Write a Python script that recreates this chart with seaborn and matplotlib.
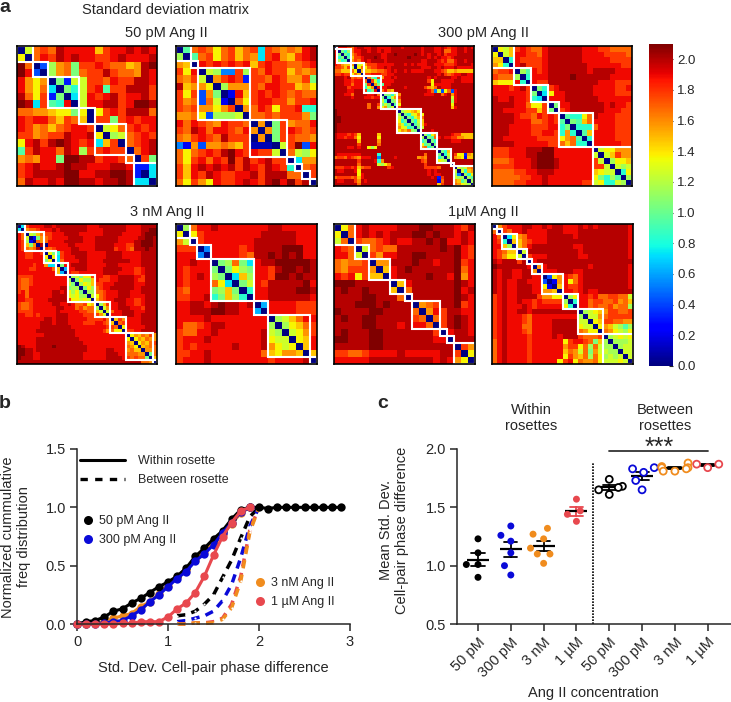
import numpy as np
import pandas as pd
import seaborn as sns
import matplotlib.pyplot as plt
from matplotlib.lines import Line2D
from matplotlib.patches import Rectangle

sns.set_style("ticks")
plt.rcParams['font.family'] = ['Liberation Sans', 'DejaVu Sans']

# matrix cells, one character per cell: base 22 digit, 0 = 0.0 and k = 2.1
m50a = [
 "0cghgjiiiiehiijiji", "d0gihjijiihhijiiij", "kg04bfgahhihggefjk", "ki40bfgaghhjhggfji",
 "ifdf0a3cchhgihhjji", "ifdg70a8chi9hhjjjh", "jgdh3a07cihijhiijh", "kj7h98i0ciijjhikkj",
 "ggffeddad0dhihjjjg", "ihiigehge0hhahihii", "ihfgeghiih0cdghihi", "hhfghhjiijd0bcghih",
 "dijhjkjihi7eh0ghij", "9hjiigjibhhihh0gij", "fgfiiakkjjhiihg0ha", "hijiijkjjiiijji337",
 "hijjjjkkiijjkkj307", "gjiijikkjjijjkj770"]
m50b = [
 "09ghgdghegh7hgfgfij", "b09ghdghegf7hifehij", "fe0ihihihiehihhgghi", "hdi0cb55hbhgihhegfg",
 "gfhc0fhih3hhgihffha", "jeffd0bfffhgiihhefd", "hdh4fa02iehihihghgg", "hfg4gc20gdhiihhfhhi",
 "hghffdfh0fgihdhhi88", "ffgd4bbbc0gghghhhfa", "igihgfihhg0f0ahfggi", "hgjigiihgif0fahihgh",
 "gfhihgjhhh0f0ahhggf", "52f4ffgfeh1110chk4i", "gdghihjkihihhc0gcbd", "gdhigihkhjhijhh07ff",
 "heijijijhjihjih80gh", "heihjihhiijhjjjgg0h", "gdhfdihhijihjkikhj0"]
m300a = [
 "0iiihgijji ijjiiiijjj ijjjjjijjj iijihiijji ji", "i0a8bgiijj ijjijiijjj jjjjjjijjj iijggiijji jj",
 "ia0a8fhijj jjjjiijjkj jjjjkjijij jijhiiijjj jj", "i8a09ehhij jjkjiijjjj jjkjjjjjij ijiihijjjj jj",
 "ib890fhgij ijjjjijjjj jjjjjjiijj jihiggijji jj", "ihfeef0cdf hhhiiiiijj jijijiiijj iiihhhijjj ji",
 "hhgehc0dgd ghhiijijjj jjjjjjiiij jijiiijiii ii", "ggeeegd0ee effgghijij jijiiiijjj iihgeefeee ee",
 "hhihhdge0h hiiihhiijj jjjjjjjjjj jijhghiijj ii", "jjjijghgh0 ga8hfiijij jjjjjjjjij ijjjjiijii ii",
 "jjjiihiiig 0hc8iiiijj jjjjjjjjhd jjiiiijjii ii", "jjjiigiiia h0fa9iijjj jjjjjjjjjd iiiiijjjjj jj",
 "jjjjhiiii8 cf0iiijjjj jijjjjjhfe gjiiijjjjj jj", "jjjjiijjjh 8ai0gifejj jjjjjjjjig 5c4dg4ijjj jj",
 "jjjiigjjjj iijg0aa8cf jjjjjjjiii jjgijfijjj jj", "jjjjjijjji ihiia08cfh jjjjjjjjjj jjjjjcijjj jj",
 "jjjjjjjjjj jjjjc80abf jjjjjjjjjj jjjjjbijjj jj", "jjjjjjjjjj gjjhaca09d jjjjjjjjjj jjjjjdjjjj jj",
 "jjjjjjjjjj gjjfdfac0h jjjjjjjjjj jjjjjeijjj jj", "kjjjjjjjjj jjjjjjjjj0 bcdefdjjjj jjjjjjjjjj jj",
 "kjjjjjjjjj jjjjjjjjjb 0a8cdfdjjj jjjjjjjjjj jj", "kkjjjjjjjj jjjjjjjjjc a0a8cegjjj jjjjjjjjjj jj",
 "kkjjjjjjjj jjjjjjjjjd 8a0a8cejjj jjjjjjjjjj jj", "kjjjjjjjjj jjjjjjjjje c8a09beijj jjjjjjjjjj jj",
 "kjjjjjjjjj jjjjjjjjjf dc890acjjj jjjjjjjjjj jj", "kjjjjjjjjj jjjjjjjjjd fegba0jjji jjjjjjjjjj jj",
 "jiiihihejj jjjejjjjjj jjjjjj0b8d fjjjjihhee ee", "jiihiigdjj jjjdjjjjjj jjjjjjb0a9 gijiihhffe ee",
 "jjjjjjjejj jjjfjjjjjj jjjjjj8a0a 8jjjjiiijj jj", "jjjjjjjhjj jjjgjjjjjj jjjjjjd9a0 ajjjjjjjjj jj",
 "jjjjiijijj dbdjjjjjjj jjjjjjfg8a 0jjjjjjjjj jj", "jjjjjjjjjj jjjjjjjjjj jjjjjjjjjj j0a8ejjjjj jj",
 "jiiiiiiijj jjj8jjjjjj jjjjjjjgjj ja08cjhdd3 fe", "ghhgihgfii ijj5jjjjij jjjjjfgfjj j8a0bjfed2 ee",
 "jjjjjjjhjj jji8fjjjjj jjjjjjhgjj jdcb0jjjjj jj", "jjjjjjjgjj jjjcbdfjjj jjjjjjjhjj jjjjj0jjjj jj",
 "hhhiihiegh hjjjjjhijj jjjjjjjhhh hgjjjj0cbc fg", "jiijjjidjj jjjjjjjjjj jjjjjjjjij ijjjjjc0c8 ef",
 "jjjjjjjdij jjjjjjjjjj jjjjjjjjij iijjjjb50b 8d", "ghhhhgheij jjjjjjjjjj jjjjjjjjji j3hjjjcbb0 b9",
 "jiijjjhfji jjjjjjjjjj jjjjjjjjjj j2gjjjfe9b 0b", "jjjjjjjgjj jjjjjjjjjj jjjjjjjjjj jehjjjgfdc b0"]
m300b = [
 "0dcehihggi jjjjjjiiih hgggg", "d0ceiihhgi jjjjjjiiii hhhhg", "ee08ihhhhi jjjjjjiiii ihhhh",
 "fd80ijhhhi jjjjjjjiii iiihh", "ghhi0b9ihi jjjjjjjijj jjiii", "hgggb08iii jjjjkjjjjj jiiii",
 "edddi80ihh jjjjjjjjji iihhh", "iiihijh0a8 hijjjjjjii iihhi", "iiiiiiha07 diijjjjjii iihhh",
 "jiijiih870 iiijjjjjji iiiii", "jjjjiigddh 0aiijjjjjj ijiih", "jjiiiihheh a0hijjjjjj iiihh",
 "jjjjihhgih ih0988dgji iihhh", "jjjjiiiggh ih90a9egii iihhh", "jjjiiiihhh ii8a0888gi iihhh",
 "jjjiiiihhi ih8f809eii iihhh", "jjiiiiiihh hhdfg908ii iihhh", "jjjjiiiiii hhgeg880ii iiihh",
 "hhhiiijjjk kiiiiiii0c ddfff", "hhhiiijjkk kiiiiiiic0 cehff", "ggghiiijkk kjiiiiiihc 0bdde",
 "hhhhiiijkk kjiiiiiihh c0cbc", "gggghhiijj jiiiiiiied cc08d", "ggggghhiij iiiiiiiida 8b90b",
 "gggghhiiij iiiiiihhcd 88cb0"]
m3a = [
 "07hiiiijji jjjjjjjjii ijjjjjjjii iijjjj", "70fgghiiij ijjjjjjjii iijjjjjjii iijjkk",
 "ig0cbeghhi iijjjjiiii iijjjjjiii iijkkk", "igc02afghi iiijjjjiii jjjjjjiiii ijjkkj",
 "ihb20gfgii iijjjjjiii jjjjjjiiii jjkkkj", "iheaf0j0ii iiijjiiiii jjjjjiiihh jjkkkj",
 "ihgfgj0hgh iiiijjiiii jjjjjhiihg jjjkjj", "iihhiih0da 8hiijjjjii iiijjjjiii iijjjj",
 "iihhiiid0d 7hiiijjjii iiijjjjiii iijjjj", "iiiiiiiad0 7giiiijjii iijjjjjjji iijjjj",
 "iiiihiif77 0aiijjjjii iiijjjiiii iijjjj", "iiihhiiiig e06iijjjii iijjjjjiii hhijjj",
 "iiiiiiiiii e60ihhiiii iijjjjiiii hhijjj", "hhhhiiiiii iii0bcaddh iihhiijjjj iihjjj",
 "hgghiiiiii iiib0adbbe ihhhiijjjj ihhjjj", "hgghiiiiii iiica0bdce hhiiijjjjj iiijjj",
 "hggiiiiiii ijjabb0adb ghiijjjjjj iijjjj", "higiiiiiij jijdbda0bb gghiiijjji iijjjj",
 "iigiiiiiij jjjdcdbb0c dghiiijjji iiijjj", "iihhiiiijj jjjhddcdc0 eghiijjjii hhijjj",
 "hgghiiiiij jiijigghde 0behiijjii hhijjj", "hgghiiiiii jjiiighfgg b0cfiijjji iihjjj",
 "hhhhiiiiii jiiiiihhgg ec0cgiijjj iiijjj", "iihhihiiii jjjiiiihhh hfc0iiijjj iijjjj",
 "iiiiiiijji jjjiiiiihh hhig0ehfii iijjjj", "iiiiiijjji jjjiiiihhh iihge0ghii iijjjj",
 "iiiiiijjjj jjjjiiiiii iiihhg0dii iiijjj", "iiiiijjjjj jjjjjiiiii iihfgdd0hh iijjjj",
 "iiiiiiijjj jjjjjiiiii iiiiiiii0d fegfhf", "iiiiijjjjj jjjjjjiiii iiiiiiiid0 dfegff",
 "iiiiijjjjj jjjjjjjiii iiiiiiiife 0dfegh", "kjiiijjjjk jjjjjjjjii iiiiiiiigf d0efgg",
 "kkjjijjjjj jjjjjjjjii iiijjiiifg ee0ffg", "kkjjiijjjj jjjjjjjiii iiijjjiigg gff0ag",
 "kjjjiijjjj jjjjjjjiii iiijjjjihg hgga0e", "jjjjjjjjjj jjjjjjjjjj jjjjjjjjjj jjggf0"]
m3b = [
 "0bgiijiiii iiijjiiiii", "d0dhiiiiii iijjjjjiii", "fc0hiiiiii ijjjjjjiii", "hhh05iiiih ijjjjkkkii",
 "iii50iiiih gjjkjkjkii", "iijii0abga 7ijjkkkkkj", "ihiiia0adb aiihjkkjkj", "ihijiba07e biihkkjkjj",
 "ihiiigd70a cihjjjjjki", "hgiiiabea0 8iijjjjkkj", "hhiij8aeb8 0iijjjjjji", "iijjijkjji j06iiiihhh",
 "iijjjkkjji i60iiiihhh", "iiiijiiiii iii0bcegii", "igghijjiii iiib0bdegh", "hggiijiiii iijcb0cdfh",
 "hiiijiiiii iijdcc0dei", "hihiiiiiji iijfdcd0ei", "hhiijiiiii iigedffe0e", "hiiijiiiii iiihiiiij0"]
m1a = [
 "0dgijiiiij jjkkjjjihj", "d0gijijijj jkkjkjjiji", "cg0hgghiji ijjkjkiiji", "ihg0cghggj jjjjjkjkih",
 "iigc0hfiij jkkjjjjkih", "gfggh0ffjj jkjjijjkhi", "gfhhhf0eij kjjjjjjkgi", "ihidhee0ij jjjkjjikfi",
 "kkkjjjjj0e ijjjjjjkji", "jkjjkjjje0 gjjjjjjkij", "jjjjkkjjjg 0jjjjjjkji", "jjjkkkjkjj j0fghjjkhi",
 "kjjjjkkjjj jg0fihjjii", "jkjjkkjjjj jhg0ghjkji", "jjjjkkjjji jiig0hjkji", "jkjjjkkjjj jjjjh0ijji",
 "kkjjjkkjjj jjjjii0jjj", "jjjjjkkjjj jjjjjjj0hf", "hhgghiiiij iiiiijjh0d", "iiiiijjjjj jjjjijifd0"]
m1b = [
 "0fhiiijjii jijjiiijij ijjjjjji", "g0hgiijiii ijjjiiijjj jjjjjjji", "ig07dfgiii ijjjjjijjj jjjjjjji",
 "ih80eeghii ijjjjjjjjj jjjjjjji", "iieb0egijj jjjjjjiijj jjjjjjji", "ihgee0cjjj jjjjjjjijj jjjjjjji",
 "ihfddc0hii ijjjjjjiij jjjjjjji", "jijjjhj0ij jjjjjjjjjj jjjjjjjj", "kjjjjjji0f ijjjjjjjji jjjjjjji",
 "jijjiijjf0 iiijjjiijj jjjjjjji", "jijjiijjii 04dfihgijj jjjjjjji", "jijiijjiii 402fidgijj jjjjjjji",
 "jijiijjjii d20eihhijj jjjjjjji", "jijiijjjii ffe0iihiji ijjjjjjj", "hijiijjjjh ffdd0bdiih igghhggc",
 "hijiijiihi hhhhb08iig hhgghfge", "hijiiijihi iiiid80iig hgghfggb", "hijiijjijj jjjjjjj0bc defhhggh",
 "hijiiihgii iiiiiiib0c cfghhhhh", "hijiiihgii iijjjjjcc0 dehhggff", "hijiiiggii iijjjjjdcc 0dfecb9b",
 "hijiiihgii iijjjjjgfd d0gfdcbd", "hijiiiihii iijijjjhgg gh0bcdcd", "gijiiiihii iiiidhiihg aeb0bbbc",
 "gijiiiihii iiiifhhdgb gcbb0bcc", "gijiiiihii iiiiegfcga fccbb0cc", "gijiiiihii iiiidhfegb gdbcbc0c",
 "gijiiiihii iiidhidgff gdcccdc0"]

# rosette sizes along each diagonal
blocks_50a = [2, 2, 4, 2, 4, 1, 3]
blocks_50b = [2, 1, 7, 5, 1, 1, 1, 1]
blocks_300a = [1, 4, 4, 5, 5, 7, 5, 4, 1, 6]
blocks_300b = [4, 3, 3, 2, 6, 7]
blocks_3a = [2, 5, 3, 3, 7, 4, 4, 7, 1]
blocks_3b = [2, 1, 2, 6, 2, 6, 1]
blocks_1a = [3, 2, 3, 2, 1, 4, 1, 1, 3]
blocks_1b = [1, 1, 3, 2, 1, 2, 4, 3, 5, 6]

# panel b
sd_x = [round(i * 0.1, 1) for i in range(30)]
within_50 = [0, .02, .03, .06, .11, .13, .18, .22, .27, .32, .36, .41, .48, .58, .65, .73, .80, .90, .98, 1, 1, .99, 1, 1, 1, 1, 1, 1, 1, 1]
within_300 = [0, 0, 0, .01, .02, .03, .07, .12, .19, .25, .32, .39, .45, .54, .60, .68, .78, .87, .96, 1]
within_3 = [0, 0, .01, .02, .05, .07, .09, .15, .19, .26, .33, .40, .46, .55, .62, .70, .77, .86, .95, 1]
within_1 = [0, 0, 0, 0, 0, .005, .005, .02, .02, .02, .06, .13, .18, .27, .41, .59, .75, .87, .97, 1]
dash_x = [1.1, 1.2, 1.3, 1.4, 1.5, 1.6, 1.7, 1.8, 1.9, 2.0]
between_50 = [.07, .08, .11, .17, .25, .40, .55, .74, .92, 1]
between_300 = [.02, .03, .05, .07, .11, .20, .34, .57, .84, 1]
between_3 = [0, 0, .01, .005, .01, .04, .14, .37, .79, 1]
between_1 = [0, 0, .01, .01, .02, .05, .17, .41, .81, 1]

# panel c
group_keys = ["w50", "w300", "w3", "w1", "b50", "b300", "b3", "b1"]
group_labels = ["50 pM", "300 pM", "3 nM", "1 µM", "50 pM", "300 pM", "3 nM", "1 µM"]
mean_w50 = [1.23, 1.11, 1.01, 1.01, .90]
mean_w300 = [1.34, 1.26, 1.21, 1.11, 1.00, .92]
mean_w3 = [1.32, 1.27, 1.23, 1.15, 1.10, 1.10, 1.02]
mean_w1 = [1.57, 1.47, 1.44, 1.38]
mean_b50 = [1.74, 1.68, 1.67, 1.65, 1.61]
mean_b300 = [1.84, 1.83, 1.80, 1.73, 1.65]
mean_b3 = [1.88, 1.85, 1.84, 1.84, 1.83, 1.81, 1.81]
mean_b1 = [1.87, 1.87, 1.84]

BLACK, BLUE, ORANGE, RED = "#000000", "#0a0ad8", "#f08c1e", "#e8484e"
W, H = 731, 702

fig = plt.figure(figsize=(W / 100, H / 100), dpi=100)


def px_axes(x0, y0, x1, y1):
    return fig.add_axes([x0 / W, 1 - y1 / H, (x1 - x0) / W, (y1 - y0) / H])


def px_text(x, y, s, size=10.5, **kw):
    kw.setdefault("ha", "center")
    kw.setdefault("va", "center")
    fig.text(x / W, 1 - y / H, s, fontsize=size, **kw)


def decode(rows):
    rows = [r.replace(" ", "") for r in rows]
    n = len(rows)
    return pd.DataFrame([[int(c, 22) * 0.105 for c in r.ljust(n, "i")[:n]] for r in rows])


cax = px_axes(649, 44, 673, 366)
panels = [
    (m50a, blocks_50a, (17, 46, 157, 186)), (m50b, blocks_50b, (176, 46, 317, 186)),
    (m300a, blocks_300a, (334, 46, 474, 186)), (m300b, blocks_300b, (492, 46, 632, 186)),
    (m3a, blocks_3a, (17, 224, 157, 364)), (m3b, blocks_3b, (176, 224, 317, 364)),
    (m1a, blocks_1a, (334, 224, 475, 364)), (m1b, blocks_1b, (492, 224, 633, 364)),
]
for i, (rows, blocks, box) in enumerate(panels):
    ax = px_axes(*box)
    sns.heatmap(decode(rows), ax=ax, vmin=0, vmax=2.1, cmap="jet", xticklabels=False, yticklabels=False,
                cbar=i == 0, cbar_ax=cax if i == 0 else None)
    start = 0
    for b in blocks:
        ax.add_patch(Rectangle((start, start), b, b, fill=False, ec="white", lw=1.5))
        start += b
    for s in ax.spines.values():
        s.set_visible(True)
        s.set_linewidth(1.2)
        s.set_color("black")

cax.set_yticks(np.arange(0, 2.01, 0.2))
cax.set_yticklabels([f"{t:.1f}" for t in np.arange(0, 2.01, 0.2)])
cax.tick_params(axis="y", length=3, width=0.8, direction="in", labelsize=9.5, pad=3)

# panel b
axb = px_axes(77, 449, 350, 624)
solid = [(within_3, ORANGE), (within_50, BLACK), (within_300, BLUE), (within_1, RED)]
dashed = [(between_50, BLACK), (between_300, BLUE), (between_1, RED), (between_3, ORANGE)]
for ys, col in dashed:
    sns.lineplot(x=dash_x, y=ys, ax=axb, color=col, lw=2.5, linestyle=(0, (2.4, 1.8)), marker="o", ms=1.6,
                 mfc="white", mec="white", mew=0, clip_on=False, errorbar=None)
for ys, col in solid:
    sns.lineplot(x=sd_x[:len(ys)], y=ys, ax=axb, color=col, lw=2.2, marker="o", ms=6, mec=col, mew=0,
                 clip_on=False, errorbar=None)
axb.set_xlim(0, 3)
axb.set_ylim(0, 1.5)
axb.set_xticks([0, 1, 2, 3])
axb.set_yticks([0, 0.5, 1, 1.5])
axb.set_yticklabels(["0.0", "0.5", "1.0", "1.5"])
axb.tick_params(labelsize=10.5, length=5, width=1.1, pad=3)
sns.despine(ax=axb)
for s in axb.spines.values():
    s.set_linewidth(1.1)

leg_kw = dict(frameon=False, fontsize=9, borderpad=0, borderaxespad=0, loc="upper left")
l1 = axb.legend(handles=[Line2D([], [], color="k", lw=2.2, label="Within rosette"),
                         Line2D([], [], color="k", lw=2.4, ls=(0, (2.2, 2.2)), label="Between rosette")],
                bbox_to_anchor=(80 / W, 1 - 455 / H), bbox_transform=fig.transFigure, handlelength=3.6,
                handletextpad=1.0, labelspacing=0.55, **leg_kw)
axb.add_artist(l1)


def dot(col, label):
    return Line2D([], [], color=col, marker="o", ms=6.5, ls="", mew=0, label=label)


l2 = axb.legend(handles=[dot(BLACK, "50 pM Ang II"), dot(BLUE, "300 pM Ang II")],
                bbox_to_anchor=(84 / W, 1 - 515 / H), bbox_transform=fig.transFigure, handlelength=0.6,
                handletextpad=0.6, labelspacing=0.6, **leg_kw)
axb.add_artist(l2)
axb.legend(handles=[dot(ORANGE, "3 nM Ang II"), dot(RED, "1 µM Ang II")],
           bbox_to_anchor=(256 / W, 1 - 577 / H), bbox_transform=fig.transFigure, handlelength=0.6,
           handletextpad=0.6, labelspacing=0.6, **leg_kw)

# panel c
axc = px_axes(457, 449, 731, 624)
all_means = [mean_w50, mean_w300, mean_w3, mean_w1, mean_b50, mean_b300, mean_b3, mean_b1]
df = pd.DataFrame([(k, v) for k, vals in zip(group_keys, all_means) for v in vals], columns=["group", "value"])
colors = [BLACK, BLUE, ORANGE, RED] * 2
# swarm laid out with a wider dot, as the original spreads its points more
sns.swarmplot(data=df, x="group", y="value", hue="group", order=group_keys, hue_order=group_keys,
              palette=colors, size=8, linewidth=0, ax=axc, legend=False, clip_on=False)
axc.set_xlim(-0.64, 7.71)
axc.set_ylim(0.5, 2.0)
fig.canvas.draw()
dots = list(axc.collections)
for n, coll in enumerate(dots):
    coll.__dict__.pop("draw", None)
    coll.set_sizes([25])
    if n >= 4:
        fc = coll.get_facecolor()
        coll.set_edgecolor(fc)
        coll.set_facecolor("white")
        coll.set_linewidth(1.3)
sns.pointplot(data=df, x="group", y="value", hue="group", order=group_keys, hue_order=group_keys,
              palette=[BLACK, BLACK, BLACK, RED, BLACK, BLACK, BLACK, BLACK], errorbar="se", capsize=0.4,
              err_kws={"linewidth": 1.3}, linestyle="none", marker="", ax=axc, legend=False)
sns.pointplot(data=df, x="group", y="value", order=group_keys, color="black", errorbar=None, linestyle="none",
              marker="_", markersize=16, markeredgewidth=1.6, ax=axc)
axc.plot([3.5, 3.5], [0.5, 1.89], color="black", lw=1.2, ls=(0, (1, 0.8)))
axc.plot([4, 7], [1.98, 1.98], color="#333333", lw=1.3, clip_on=False)
axc.set_xlim(-0.64, 7.71)
axc.set_ylim(0.5, 2.0)
axc.set_yticks([0.5, 1, 1.5, 2])
axc.set_yticklabels(["0.5", "1.0", "1.5", "2.0"])
axc.set_xticks(range(8))
axc.set_xticklabels(group_labels, rotation=45, ha="right", rotation_mode="anchor")
axc.set_xlabel("")
axc.set_ylabel("")
axc.tick_params(labelsize=10.5, length=5, width=1.1, pad=3)
sns.despine(ax=axc)
for s in axc.spines.values():
    s.set_linewidth(1.1)

# text
px_text(166, 10, "Standard deviation matrix")
px_text(166, 33, "50 pM Ang II")
px_text(483, 33, "300 pM Ang II")
px_text(167, 212, "3 nM Ang II")
px_text(483, 212, "1µM Ang II")
px_text(5, 7, "a", size=14, fontweight="bold")
px_text(5, 404, "b", size=14, fontweight="bold")
px_text(383, 404, "c", size=14, fontweight="bold")
px_text(213, 668, "Std. Dev. Cell-pair phase difference")
px_text(16, 537, "Normalized cummulative\nfreq distribution", rotation=90, linespacing=1.25, multialignment="center")
px_text(531, 418, "Within\nrosettes", linespacing=1.15)
px_text(665, 418, "Between\nrosettes", linespacing=1.15)
px_text(659, 448, "***", size=18)
px_text(593, 693, "Ang II concentration")
px_text(394, 530, "Mean Std. Dev.\nCell-pair phase difference", rotation=90, linespacing=1.25, multialignment="center")

fig.savefig("out.png", dpi=100)
